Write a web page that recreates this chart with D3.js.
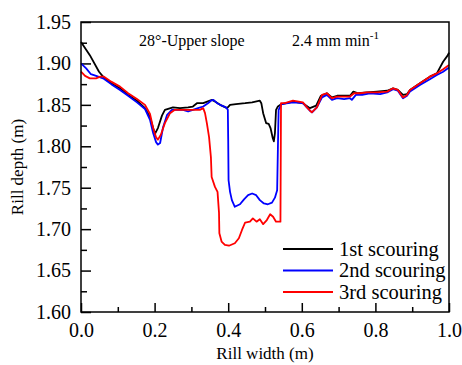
<!DOCTYPE html>
<html>
<head>
<meta charset="utf-8">
<script src="https://cdn.jsdelivr.net/npm/d3@7"></script>
<style>
  body { margin: 0; background: #fff; }
  svg text { font-family: "Liberation Serif", "Times New Roman", serif; fill: #000; }
</style>
</head>
<body>
<div id="chart"></div>
<script>
// tick values
var xMajor = [0, 0.2, 0.4, 0.6, 0.8, 1.0];
var xMinor = [0.1, 0.3, 0.5, 0.7, 0.9];
var yMajor = [1.60, 1.65, 1.70, 1.75, 1.80, 1.85, 1.90, 1.95];
var yMinor = [1.625, 1.675, 1.725, 1.775, 1.825, 1.875, 1.925];

var seriesNames = ["1st scouring", "2nd scouring", "3rd scouring"];
var seriesColors = ["#000000", "#0000ff", "#ff0000"];

// [rill width (m), rill depth (m)]
var scour1 = [
  [0, 1.926], [0.024, 1.910], [0.049, 1.890], [0.060, 1.884], [0.082, 1.876], [0.106, 1.870],
  [0.128, 1.862], [0.152, 1.855], [0.174, 1.846], [0.1875, 1.835], [0.196, 1.822], [0.201, 1.815],
  [0.209, 1.822], [0.220, 1.837], [0.228, 1.844], [0.250, 1.847], [0.269, 1.846], [0.291, 1.847],
  [0.304, 1.848], [0.315, 1.852], [0.332, 1.852], [0.356, 1.856], [0.364, 1.854], [0.378, 1.850],
  [0.397, 1.846], [0.405, 1.850], [0.421, 1.851], [0.446, 1.852], [0.465, 1.853], [0.486, 1.855],
  [0.490, 1.852], [0.495, 1.840], [0.503, 1.828], [0.510, 1.827], [0.515, 1.822], [0.521, 1.810],
  [0.524, 1.806], [0.527, 1.816], [0.530, 1.844], [0.535, 1.848], [0.545, 1.851], [0.576, 1.854],
  [0.603, 1.852], [0.622, 1.846], [0.639, 1.849], [0.652, 1.861], [0.668, 1.864], [0.682, 1.859],
  [0.696, 1.861], [0.715, 1.861], [0.731, 1.861], [0.740, 1.866], [0.753, 1.864], [0.777, 1.865],
  [0.804, 1.866], [0.832, 1.867], [0.848, 1.870], [0.861, 1.868], [0.875, 1.862], [0.886, 1.863],
  [0.894, 1.868], [0.921, 1.876], [0.948, 1.884], [0.967, 1.888], [0.984, 1.902], [0.997, 1.910],
  [1.0, 1.913]
];

var scour2 = [
  [0, 1.900], [0.014, 1.894], [0.027, 1.887], [0.041, 1.885], [0.060, 1.882], [0.082, 1.875],
  [0.106, 1.868], [0.128, 1.861], [0.152, 1.853], [0.174, 1.845], [0.1875, 1.832], [0.196, 1.816],
  [0.204, 1.805], [0.209, 1.802], [0.215, 1.804], [0.223, 1.823], [0.234, 1.838], [0.247, 1.844],
  [0.264, 1.844], [0.277, 1.844], [0.291, 1.842], [0.304, 1.844], [0.318, 1.846], [0.332, 1.848],
  [0.345, 1.852], [0.353, 1.855], [0.360, 1.856], [0.370, 1.852], [0.383, 1.849], [0.394, 1.847],
  [0.399, 1.844], [0.400, 1.808], [0.401, 1.759], [0.405, 1.745], [0.410, 1.735], [0.418, 1.727],
  [0.432, 1.730], [0.443, 1.736], [0.454, 1.741], [0.465, 1.743], [0.476, 1.741], [0.486, 1.735],
  [0.497, 1.731], [0.508, 1.730], [0.519, 1.732], [0.527, 1.738], [0.533, 1.747], [0.535, 1.796],
  [0.537, 1.844], [0.545, 1.851], [0.576, 1.853], [0.603, 1.852], [0.622, 1.843], [0.628, 1.841],
  [0.641, 1.847], [0.655, 1.859], [0.668, 1.862], [0.682, 1.856], [0.696, 1.858], [0.715, 1.857],
  [0.731, 1.858], [0.736, 1.856], [0.747, 1.862], [0.764, 1.862], [0.785, 1.864], [0.813, 1.863],
  [0.832, 1.865], [0.848, 1.869], [0.861, 1.867], [0.875, 1.858], [0.886, 1.861], [0.894, 1.866],
  [0.921, 1.874], [0.948, 1.881], [0.967, 1.886], [0.984, 1.890], [1.0, 1.895]
];

var scour3 = [
  [0, 1.890], [0.011, 1.885], [0.024, 1.882], [0.041, 1.882], [0.052, 1.884], [0.0625, 1.884],
  [0.082, 1.878], [0.106, 1.872], [0.128, 1.864], [0.152, 1.857], [0.174, 1.850], [0.1875, 1.839],
  [0.196, 1.822], [0.204, 1.811], [0.209, 1.808], [0.217, 1.814], [0.228, 1.828], [0.242, 1.840],
  [0.255, 1.844], [0.274, 1.844], [0.291, 1.844], [0.310, 1.844], [0.323, 1.844], [0.332, 1.846],
  [0.337, 1.840], [0.342, 1.828], [0.348, 1.811], [0.353, 1.787], [0.355, 1.763], [0.364, 1.751],
  [0.371, 1.745], [0.375, 1.720], [0.376, 1.695], [0.382, 1.685], [0.391, 1.681], [0.402, 1.680],
  [0.418, 1.683], [0.429, 1.689], [0.4375, 1.699], [0.446, 1.708], [0.459, 1.709], [0.467, 1.713],
  [0.477, 1.709], [0.486, 1.712], [0.495, 1.706], [0.505, 1.711], [0.514, 1.718], [0.522, 1.715],
  [0.530, 1.709], [0.542, 1.709], [0.5435, 1.852], [0.554, 1.852], [0.576, 1.855], [0.603, 1.853],
  [0.614, 1.847], [0.627, 1.841], [0.641, 1.847], [0.655, 1.862], [0.668, 1.864], [0.682, 1.858],
  [0.696, 1.860], [0.715, 1.860], [0.731, 1.860], [0.742, 1.864], [0.758, 1.864], [0.777, 1.865],
  [0.804, 1.865], [0.832, 1.866], [0.848, 1.870], [0.861, 1.868], [0.875, 1.859], [0.886, 1.862],
  [0.894, 1.868], [0.921, 1.876], [0.948, 1.884], [0.967, 1.888], [0.984, 1.893], [1.0, 1.898]
];

var allSeries = [scour1, scour2, scour3];

var width = 462, height = 365;
var plotLeft = 81, plotRight = 449, plotTop = 22, plotBottom = 312;
var serif = "'Liberation Serif', 'Times New Roman', serif";

var svg = d3.select("#chart")
  .append("svg")
  .attr("width", width)
  .attr("height", height);

var x = d3.scaleLinear().domain([0, 1]).range([plotLeft, plotRight]);
var y = d3.scaleLinear().domain([1.60, 1.95]).range([plotBottom, plotTop]);

// x axis (ticks point inward)
svg.append("g")
  .attr("transform", "translate(0," + plotBottom + ")")
  .call(d3.axisBottom(x).tickValues(xMajor).tickSize(-9).tickPadding(11).tickFormat(d3.format(".1f")));
svg.append("g")
  .attr("transform", "translate(0," + plotBottom + ")")
  .call(d3.axisBottom(x).tickValues(xMinor).tickSize(-5).tickFormat(""));

// y axis
svg.append("g")
  .attr("transform", "translate(" + plotLeft + ",0)")
  .call(d3.axisLeft(y).tickValues(yMajor).tickSize(-10).tickPadding(10).tickFormat(d3.format(".2f")));
svg.append("g")
  .attr("transform", "translate(" + plotLeft + ",0)")
  .call(d3.axisLeft(y).tickValues(yMinor).tickSize(-6).tickFormat(""));

svg.selectAll(".domain").remove();
svg.selectAll(".tick line").attr("stroke", "#000").attr("stroke-width", 1.5);
svg.selectAll(".tick text").style("font-size", "20px");

// curves
var line = d3.line()
  .x(d => x(d[0]))
  .y(d => y(d[1]));

svg.selectAll(".curve")
  .data(allSeries)
  .enter()
  .append("path")
  .attr("class", "curve")
  .attr("d", line)
  .attr("fill", "none")
  .attr("stroke", (d, i) => seriesColors[i])
  .attr("stroke-width", 1.8)
  .attr("stroke-linejoin", "round");

// frame
svg.append("rect")
  .attr("x", plotLeft)
  .attr("y", plotTop)
  .attr("width", plotRight - plotLeft)
  .attr("height", plotBottom - plotTop)
  .attr("fill", "none")
  .attr("stroke", "#000")
  .attr("stroke-width", 1.5);

// annotations
svg.append("text")
  .attr("x", 139)
  .attr("y", 46)
  .style("font-size", "16px")
  .text("28°-Upper slope");

var rate = svg.append("text")
  .attr("x", 292)
  .attr("y", 46)
  .style("font-size", "16px");
rate.append("tspan").text("2.4 mm min");
rate.append("tspan").attr("dy", -7).style("font-size", "11px").text("-1");

// axis titles
svg.append("text")
  .attr("x", (plotLeft + plotRight) / 2)
  .attr("y", 359)
  .attr("text-anchor", "middle")
  .style("font-size", "17px")
  .text("Rill width (m)");

svg.append("text")
  .attr("transform", "translate(23," + (plotTop + plotBottom) / 2 + ") rotate(-90)")
  .attr("text-anchor", "middle")
  .style("font-size", "17px")
  .text("Rill depth (m)");

// legend
var legend = svg.selectAll(".legend")
  .data(seriesNames)
  .enter()
  .append("g")
  .attr("class", "legend")
  .attr("transform", (d, i) => "translate(283," + (249 + i * 21.5) + ")");

legend.append("line")
  .attr("x1", 0)
  .attr("x2", 50)
  .attr("stroke", (d, i) => seriesColors[i])
  .attr("stroke-width", 1.8);

legend.append("text")
  .attr("x", 56)
  .attr("dy", "0.33em")
  .style("font-size", "20.5px")
  .text(d => d);

svg.selectAll("text").style("font-family", serif);
</script>
</body>
</html>
